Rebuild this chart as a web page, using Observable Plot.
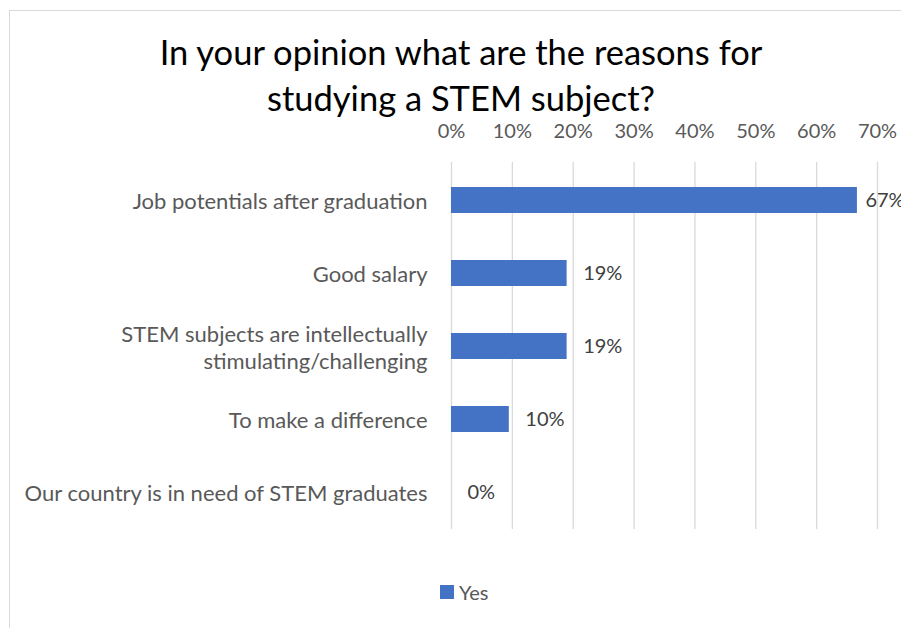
<!DOCTYPE html>
<html>
<head>
<meta charset="utf-8">
<script src="https://cdn.jsdelivr.net/npm/d3@7"></script>
<script src="https://cdn.jsdelivr.net/npm/@observablehq/plot@0.6"></script>
<style>
  body { margin: 0; background: #fff; }
  #wrap { position: relative; width: 901px; height: 628px; overflow: hidden; font-family: Lato, sans-serif; }
  #frame { position: absolute; left: 9px; top: 10px; width: 1000px; height: 1000px; border: 1px solid #d9d9d9; box-sizing: border-box; }
  #title { position: absolute; left: 0; width: 922px; top: 29px; text-align: center; font-size: 34.5px; line-height: 46px; color: #000; }
  #chart { position: absolute; left: 0; top: 0; }
  #legend { position: absolute; left: 440px; top: 580px; font-size: 20px; color: #595959; display: flex; align-items: center; }
  #legend .sw { width: 14px; height: 14px; background: #4472C4; margin-right: 5px; }
</style>
</head>
<body>
<div id="wrap">
  <div id="frame"></div>
  <div id="title">In your opinion what are the reasons for<br>studying a STEM subject?</div>
  <div id="chart"></div>
  <div id="legend"><div class="sw"></div><span>Yes</span></div>
</div>
<script>
const categories = [
  "Job potentials after graduation",
  "Good salary",
  "STEM subjects are intellectually stimulating/challenging",
  "To make a difference",
  "Our country is in need of STEM graduates"
];
const values = [0.667, 0.190, 0.190, 0.095, 0.0];
const labels = ["67%", "19%", "19%", "10%", "0%"];
const xTicks = [0, 0.1, 0.2, 0.3, 0.4, 0.5, 0.6, 0.7];
const seriesName = "Yes";

const data = categories.map((c, i) => ({ category: c, value: values[i], label: labels[i] }));
const maxVal = d3.max(values);

const wrapLabel = d => d === "STEM subjects are intellectually stimulating/challenging"
  ? "STEM subjects are intellectually\nstimulating/challenging" : d;

const chart = Plot.plot({
  width: 901,
  height: 628,
  marginLeft: 451,
  marginRight: 24,
  marginTop: 162,
  marginBottom: 99,
  style: { fontFamily: "Lato, sans-serif", fontSize: "20px", background: "transparent", overflow: "visible" },
  x: { domain: [0, 0.7] },
  y: { domain: categories, paddingInner: 0.65, paddingOuter: 0.325 },
  marks: [
    Plot.gridX(xTicks, { stroke: "#d9d9d9", strokeOpacity: 1, strokeWidth: 1.3 }),
    Plot.axisX(xTicks, { anchor: "top", tickSize: 0, tickPadding: 25, tickFormat: d => Math.round(d * 100) + "%", fill: "#595959", fontSize: 20, label: null }),
    Plot.axisY({ tickSize: 0, tickPadding: 24, tickFormat: wrapLabel, fill: "#595959", fontSize: 22, lineHeight: 1.23, label: null }),
    Plot.barX(data, { x: "value", y: "category", fill: "#4472C4" }),
    Plot.text(data.filter(d => d.value < maxVal), { x: "value", y: "category", text: "label", textAnchor: "start", dx: 16, fill: "#404040", fontSize: 20 }),
    Plot.text(data.filter(d => d.value === maxVal), { x: "value", y: "category", text: "label", textAnchor: "start", dx: 8, fill: "#404040", fontSize: 20 })
  ]
});
document.getElementById("chart").appendChild(chart);
</script>
</body>
</html>
